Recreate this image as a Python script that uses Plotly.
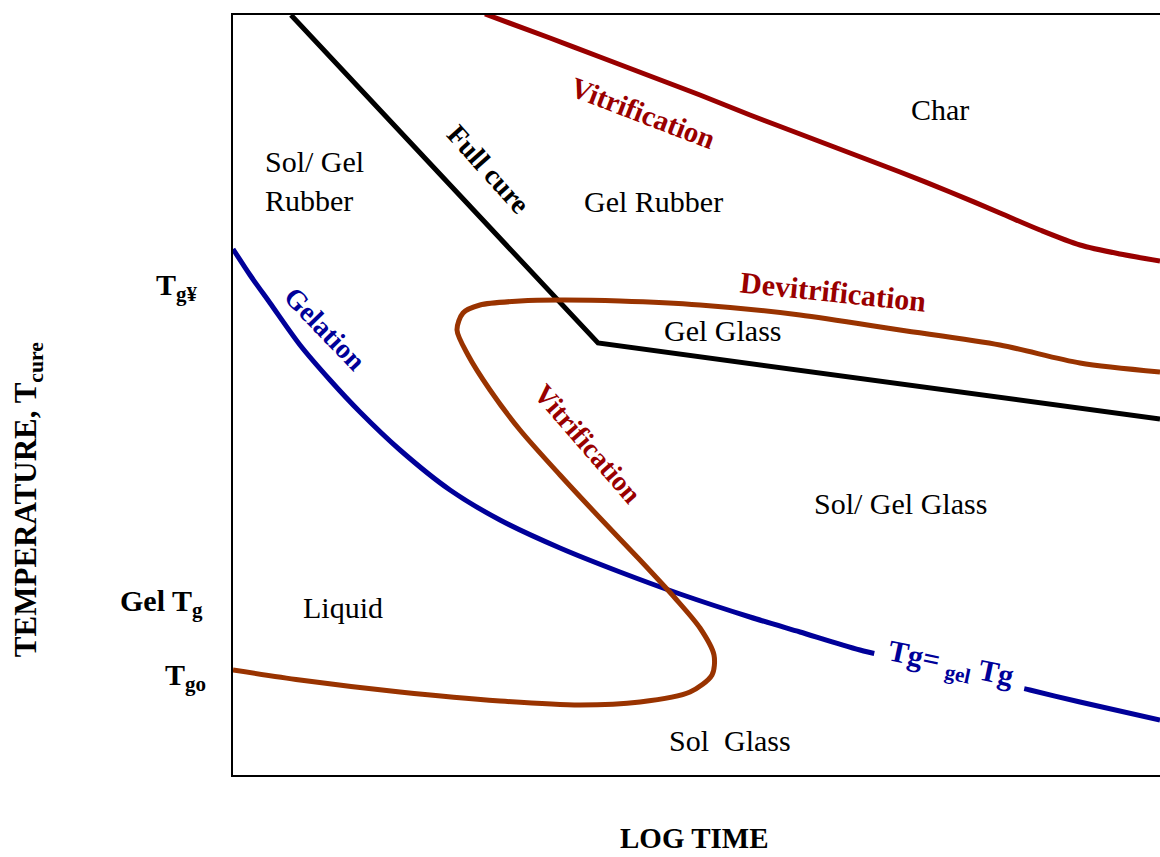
import plotly.graph_objects as go

# Axis units: log time (0..927), temperature (0..760)
full_cure_t = [58, 365, 927]
full_cure_T = [760, 432, 356]

vitr_top_t = [252, 317, 367, 417, 467, 517, 567, 617, 667, 717, 767, 807, 847, 887, 927]
vitr_top_T = [761, 737, 718, 699, 680, 660, 641, 622, 603, 583, 562, 545, 530, 521, 514]

gelation_t = [0, 17, 37, 67, 97, 127, 167, 217, 267, 327, 387, 447, 517, 567, 627, 717, 797, 847, 927]
gelation_T = [526, 500, 472, 430, 395, 363, 325, 285, 255, 227, 203, 181, 158, 143, 125, 105, 85, 73, 55]

loop_t = [0, 67, 167, 267, 347, 407, 457, 479, 481, 467, 442, 407, 367, 327, 287, 257, 235, 224, 230,
          247, 287, 327, 387, 467, 567, 667, 767, 847, 927]
loop_T = [105, 95, 83, 74, 70, 73, 83, 100, 120, 147, 177, 215, 257, 300, 345, 385, 420, 445, 462,
          470, 474, 475, 474, 470, 460, 445, 430, 412, 403]

region_labels = ["Char", "Sol/ Gel<br>Rubber", "Gel Rubber", "Gel Glass", "Sol/ Gel Glass", "Liquid", "Sol  Glass"]
region_t = [707, 30, 420, 489, 667, 110, 497]
region_T = [666, 594, 574, 445, 272, 168, 35]

curve_labels = ["Vitrification", "Full cure", "Devitrification", "Gelation", "Vitrification"]
curve_label_t = [410, 256, 600, 92, 355]
curve_label_T = [662, 606, 484, 447, 332]
curve_label_angle = [21, 48, 6, 46, 49]
curve_label_size = [29, 28, 30, 28, 28]

temp_labels = ["T<sub>g¥</sub>", "Gel T<sub>g</sub>", "T<sub>go</sub>"]
temp_label_x = [-0.036, -0.030, -0.027]   # paper fraction, right edge of label
temp_label_T = [488, 172, 98]

RED = "#990000"
BLUE = "#000099"
BROWN = "#993300"
FONT = "Liberation Serif"

fig = go.Figure()
fig.add_trace(go.Scatter(x=vitr_top_t, y=vitr_top_T, mode="lines",
                         line=dict(color=RED, width=5, shape="spline", smoothing=0.8)))
fig.add_trace(go.Scatter(x=full_cure_t, y=full_cure_T, mode="lines", line=dict(color="black", width=5)))
fig.add_trace(go.Scatter(x=gelation_t, y=gelation_T, mode="lines",
                         line=dict(color=BLUE, width=5, shape="spline", smoothing=0.8)))
fig.add_trace(go.Scatter(x=loop_t, y=loop_T, mode="lines",
                         line=dict(color=BROWN, width=5, shape="spline", smoothing=0.8)))

for txt, t, T in zip(region_labels, region_t, region_T):
    fig.add_annotation(x=t, y=T, text=txt, showarrow=False, yanchor="middle",
                       xanchor="left" if "<br>" in txt else "center", align="left",
                       font=dict(family=FONT, size=30, color="black"))

curve_colors = [RED, "black", RED, BLUE, RED]
for txt, t, T, a, c, s in zip(curve_labels, curve_label_t, curve_label_T, curve_label_angle,
                              curve_colors, curve_label_size):
    fig.add_annotation(x=t, y=T, text="<b>%s</b>" % txt, showarrow=False, textangle=a,
                       xanchor="center", yanchor="middle",
                       font=dict(family=FONT, size=s, color=c))

fig.add_annotation(x=717, y=110, text="<b>Tg= <sub>gel</sub> Tg</b>", showarrow=False, textangle=12,
                   xanchor="center", yanchor="middle",
                   bgcolor="white", borderpad=13, font=dict(family=FONT, size=30, color=BLUE))

for txt, px, T in zip(temp_labels, temp_label_x, temp_label_T):
    fig.add_annotation(xref="paper", x=px, y=T, text="<b>%s</b>" % txt, showarrow=False,
                       xanchor="right", yanchor="middle",
                       font=dict(family=FONT, size=30, color="black"))

fig.add_annotation(xref="paper", x=-0.221, y=275, text="<b>TEMPERATURE, T<sub>cure</sub></b>",
                   showarrow=False, textangle=-90, xanchor="center", yanchor="middle",
                   font=dict(family=FONT, size=31, color="black"))
fig.add_annotation(x=461, yref="paper", y=-0.083, text="<b>LOG TIME</b>", showarrow=False,
                   xanchor="center", yanchor="middle", borderpad=0,
                   font=dict(family=FONT, size=29, color="black"))

fig.update_layout(
    width=1160, height=857, showlegend=False,
    margin=dict(l=233, r=0, t=15, b=82),
    plot_bgcolor="white", paper_bgcolor="white",
    xaxis=dict(range=[0, 927], showgrid=False, zeroline=False, showticklabels=False, ticks="",
               showline=True, mirror=True, linecolor="black", linewidth=1.5),
    yaxis=dict(range=[0, 760], showgrid=False, zeroline=False, showticklabels=False, ticks="",
               showline=True, mirror=False, linecolor="black", linewidth=1.5),
)
fig.write_html("out.html", config={"displayModeBar": False},
               post_script="document.body.style.margin='0';"
                           "document.documentElement.style.overflow='hidden';")
